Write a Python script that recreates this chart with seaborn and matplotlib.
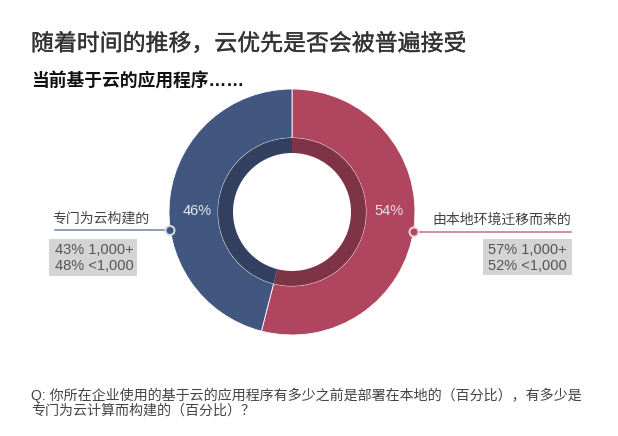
import matplotlib
matplotlib.use("Agg")
import matplotlib.pyplot as plt
import matplotlib.patheffects as pe
import seaborn as sns
from matplotlib.patches import Rectangle, Circle

# data
segments = ["由本地环境迁移而来的", "专门为云构建的"]
shares = [54, 46]
big_co = [57, 43]     # 1,000+
small_co = [52, 48]   # <1,000

title = "随着时间的推移，云优先是否会被普遍接受"
subtitle = "当前基于云的应用程序……"
question = ["Q: 你所在企业使用的基于云的应用程序有多少之前是部署在本地的（百分比），有多少是",
            "专门为云计算而构建的（百分比）？"]

sns.set_theme(style="white")
plt.rcParams['font.family'] = ['Liberation Sans', 'Noto Sans CJK SC', 'DejaVu Sans']

outer_cols = sns.color_palette(["#B0455F", "#42577F"])
inner_cols = sns.color_palette(["#7E3446", "#33405F"])
line_cols = ["#D38D9F", "#8F9DB8"]

W, H = 618, 436
fig = plt.figure(figsize=(W / 100, H / 100), dpi=100)
ax = fig.add_axes([0, 0, 1, 1])

def Y(y):
    return H - y

cx, cy = 292, Y(212)
ax.pie(shares, colors=outer_cols, startangle=90, counterclock=False,
       radius=123, center=(cx, cy), frame=True,
       wedgeprops=dict(width=123 - 74, edgecolor="white", linewidth=0.6))
ax.pie(shares, colors=inner_cols, startangle=90, counterclock=False,
       radius=74, center=(cx, cy), frame=True,
       wedgeprops=dict(width=15, edgecolor="none"))
ax.set_xlim(0, W)
ax.set_ylim(0, H)
ax.set_aspect("equal")
ax.axis("off")

# percent labels inside ring
ax.text(389, Y(211), f"{shares[0]}%", color="#EADFE6", fontsize=10.5,
        ha="center", va="center")
ax.text(197, Y(211), f"{shares[1]}%", color="#E3E6EE", fontsize=10.5,
        ha="center", va="center")

# right callout
ax.plot([414, 571], [Y(232), Y(232)], color=line_cols[0], lw=1.4, zorder=3)
ax.add_patch(Circle((414, Y(232)), 4.5, facecolor=outer_cols[0],
                    edgecolor="#F1D9DF", lw=1.4, zorder=4))
ax.text(571, Y(220), segments[0], color="#444444", fontsize=10,
        ha="right", va="center")
ax.add_patch(Rectangle((483, Y(275)), 89, 36, facecolor="#D4D4D4",
                       edgecolor="none", zorder=2))
ax.text(567, Y(250), f"{big_co[0]}% 1,000+", color="#555555", fontsize=10.5,
        ha="right", va="center", zorder=3)
ax.text(567, Y(266), f"{small_co[0]}% <1,000", color="#555555", fontsize=10.5,
        ha="right", va="center", zorder=3)

# left callout
ax.plot([55, 170], [Y(230.5), Y(230.5)], color=line_cols[1], lw=1.4, zorder=3)
ax.add_patch(Circle((170, Y(230.5)), 4.5, facecolor=outer_cols[1],
                    edgecolor="#D5DBE6", lw=1.4, zorder=4))
ax.text(52, Y(219), segments[1], color="#444444", fontsize=10,
        ha="left", va="center")
ax.add_patch(Rectangle((49, Y(276)), 88, 37, facecolor="#D4D4D4",
                       edgecolor="none", zorder=2))
ax.text(55, Y(250), f"{big_co[1]}% 1,000+", color="#555555", fontsize=10.5,
        ha="left", va="center", zorder=3)
ax.text(55, Y(266), f"{small_co[1]}% <1,000", color="#555555", fontsize=10.5,
        ha="left", va="center", zorder=3)

# titles
ax.text(31, Y(44), title, color="#333333", fontsize=16.5, ha="left", va="center",
        path_effects=[pe.withStroke(linewidth=0.25, foreground="#333333")])
ax.text(31, Y(81), subtitle, color="#111111", fontsize=12.8, fontweight="bold",
        ha="left", va="center")

# question
ax.text(31, Y(395), question[0], color="#444444", fontsize=10.1, ha="left", va="center")
ax.text(31, Y(411), question[1], color="#444444", fontsize=10.1, ha="left", va="center")

fig.savefig("out.png", dpi=100, facecolor="white")
